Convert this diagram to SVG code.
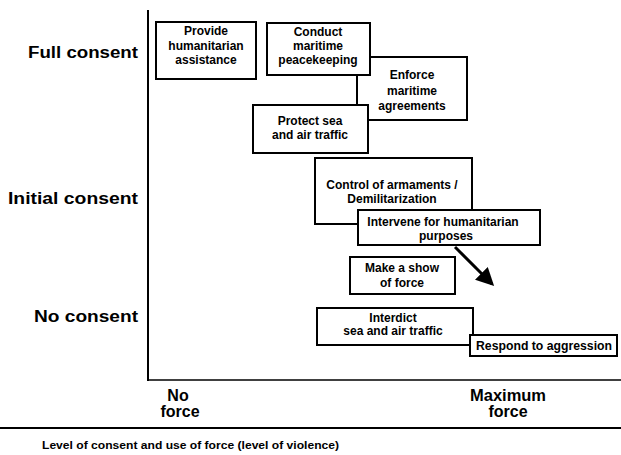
<svg xmlns="http://www.w3.org/2000/svg" width="621" height="455" viewBox="0 0 621 455">
<style>
.box{fill:#fff;stroke:#000;stroke-width:2}
.t{font-family:"Liberation Sans",Arial,sans-serif;font-weight:bold;font-size:12px;fill:#000;text-anchor:middle}
.lab{font-family:"Liberation Sans",Arial,sans-serif;font-weight:bold;font-size:16px;fill:#000}
.ax{stroke:#000;fill:none}
</style>
<defs>
<marker id="ah" markerWidth="6" markerHeight="6" refX="5" refY="3" orient="auto" markerUnits="strokeWidth">
<path d="M0,0 L6,3 L0,6 Z" fill="#000"/>
</marker>
</defs>
<rect width="621" height="455" fill="#fff"/>
<g id="axes">
<line class="ax" x1="148" y1="10" x2="148" y2="381" stroke-width="2"/>
<line class="ax" x1="147" y1="380" x2="621" y2="380" stroke-width="1.5"/>
<line class="ax" x1="0" y1="428" x2="621" y2="428" stroke-width="2"/>
<text class="lab" x="138" y="58" text-anchor="end" textLength="110" lengthAdjust="spacingAndGlyphs">Full consent</text>
<text class="lab" x="138" y="204" text-anchor="end" textLength="130" lengthAdjust="spacingAndGlyphs">Initial consent</text>
<text class="lab" x="138" y="322" text-anchor="end" textLength="104" lengthAdjust="spacingAndGlyphs">No consent</text>
<text class="lab" x="178" y="401" text-anchor="middle">No</text>
<text class="lab" x="180" y="417" text-anchor="middle">force</text>
<text class="lab" x="508" y="401" text-anchor="middle" textLength="76" lengthAdjust="spacingAndGlyphs">Maximum</text>
<text class="lab" x="508" y="417" text-anchor="middle">force</text>
<text x="42" y="449" font-family="'Liberation Sans',Arial,sans-serif" font-weight="bold" font-size="11" textLength="297" lengthAdjust="spacingAndGlyphs">Level of consent and use of force (level of violence)</text>
</g>
<g id="n-provide">
<rect class="box" x="156" y="22" width="100" height="57"/>
<text class="t" x="206" y="35">Provide</text>
<text class="t" x="206" y="50">humanitarian</text>
<text class="t" x="206" y="64">assistance</text>
</g>
<g id="n-enforce">
<rect class="box" x="357" y="57" width="110" height="63"/>
<text class="t" x="412" y="79">Enforce</text>
<text class="t" x="412" y="95">maritime</text>
<text class="t" x="412" y="110">agreements</text>
</g>
<g id="n-conduct">
<rect class="box" x="267" y="23" width="103" height="52"/>
<text class="t" x="318" y="36">Conduct</text>
<text class="t" x="318" y="50">maritime</text>
<text class="t" x="318" y="64">peacekeeping</text>
</g>
<g id="n-protect">
<rect class="box" x="253" y="105" width="115" height="48"/>
<text class="t" x="310" y="125">Protect sea</text>
<text class="t" x="310" y="139">and air traffic</text>
</g>
<g id="n-control">
<rect class="box" x="315" y="158" width="157" height="66"/>
<text class="t" x="392" y="189">Control of armaments /</text>
<text class="t" x="392" y="203">Demilitarization</text>
</g>
<g id="n-intervene">
<rect class="box" x="358" y="210" width="182" height="35"/>
<text class="t" x="443" y="226">Intervene for humanitarian</text>
<text class="t" x="446" y="240">purposes</text>
</g>
<g id="n-show">
<rect class="box" x="350" y="257" width="105" height="37"/>
<text class="t" x="402" y="272">Make a show</text>
<text class="t" x="402" y="287">of force</text>
</g>
<g id="n-interdict">
<rect class="box" x="317" y="308" width="156" height="37"/>
<text class="t" x="393" y="322">Interdict</text>
<text class="t" x="393" y="335">sea and air traffic</text>
</g>
<g id="n-respond">
<rect class="box" x="470" y="335" width="147" height="21"/>
<text class="t" x="544" y="350" textLength="136" lengthAdjust="spacingAndGlyphs">Respond to aggression</text>
</g>
<g id="connectors">
<line x1="455" y1="247" x2="492" y2="284" stroke="#000" stroke-width="3" marker-end="url(#ah)"/>
</g>
</svg>
